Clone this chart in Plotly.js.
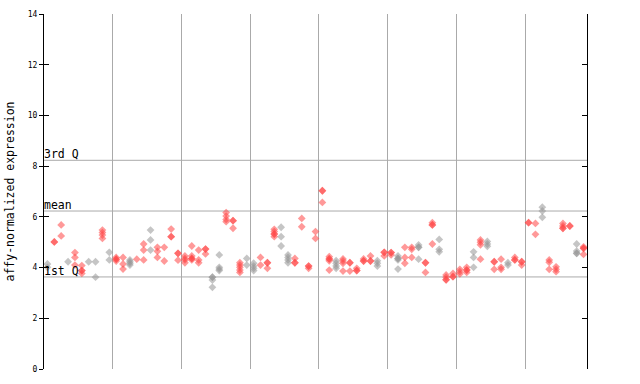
<!DOCTYPE html>
<html>
<head>
<meta charset="utf-8">
<script src="https://cdn.plot.ly/plotly-3.0.1.min.js"></script>
<style>html,body{margin:0;padding:0;background:#fff;}#chart{width:640px;height:384px;}</style>
</head>
<body>
<div id="chart"></div>
<script>
// expression values per sample (replicates)
const group1 = [[4.14,4.01],[5.01,5.01],[5.68,5.25],[4.23],[4.59,4.40,4.10],[4.08,3.88,3.88,3.77],[4.23],[4.23,3.62],[5.48,5.38,5.28,5.15],[4.60,4.30]];
const group2 = [[4.40,4.33,4.33,4.26],[4.40,4.14,3.94],[4.30,4.23,4.17,4.10],[4.33],[4.93,4.69,4.30],[5.48,5.09,4.69],[4.80,4.64,4.40],[4.80,4.26],[5.52,5.22,5.22],[4.56,4.56,4.29]];
const group3 = [[4.46,4.36,4.30,4.19],[4.85,4.46,4.36,4.36,4.30],[4.69,4.30,4.19],[4.73,4.73,4.54],[3.62,3.62,3.51,3.22],[4.50,4.01,3.94,3.88],[6.17,6.03,5.90,5.81],[5.85,5.85,5.55],[4.19,4.10,4.01,3.90,3.81],[4.36,4.10]];
const group4 = [[4.17,4.06,3.97,3.88],[4.40,4.10],[4.19,4.19,3.97],[5.51,5.42,5.32,5.32,5.22],[5.59,5.22,4.85],[4.50,4.40,4.30,4.19],[4.36,4.19,4.19],[5.94,5.61],[4.06,4.06,3.97],[5.42,5.15]];
const group5 = [[7.03,7.03,6.57],[4.43,4.34,4.34,4.27,3.90],[4.27,4.17,4.06,3.97],[4.34,4.26,4.17,3.86],[4.19,4.19,3.86],[3.97,3.88,3.88],[4.34,4.26,4.26],[4.46,4.26,4.26],[4.27,4.17,4.06],[4.60,4.60,4.46]];
const group6 = [[4.59,4.59,4.50],[4.46,4.36,4.36,4.30,3.94],[4.80,4.40,4.17],[4.80,4.72,4.40],[4.89,4.80,4.80,4.33],[4.19,4.19,3.81],[5.77,5.68,5.68,4.93],[5.11,4.72,4.62],[3.71,3.62,3.52,3.52],[3.77,3.64,3.64]];
const group7 = [[3.93,3.84,3.75],[4.01,3.90,3.90,3.81],[4.62,4.40,4.01],[5.09,5.00,4.90,4.33],[5.03,4.93,4.84],[4.23,4.23,3.93],[4.33,4.01,3.93],[4.19,4.10],[4.40,4.30,4.30],[4.23,4.23,4.10]];
const group8 = [[5.77,5.77],[5.74,5.31],[6.38,6.23,5.98],[4.30,4.21,3.93],[4.03,3.93,3.84],[5.74,5.64,5.55,5.55],[5.64,5.64],[4.93,4.65,4.56,4.56],[4.82,4.76,4.76,4.52]];

// colour flag per sample: 'g' grey, 'r' red
const sampleColor = [
  'g','r','r','g','r','r','g','g','r','g',
  'r','r','g','r','r','g','r','r','r','r',
  'r','r','r','r','g','g','r','r','r','g',
  'g','r','r','r','g','g','r','r','r','r',
  'r','r','g','r','r','r','r','r','g','r',
  'r','g','r','r','g','r','r','g','r','r',
  'r','r','g','r','g','r','r','g','r','r',
  'r','r','g','r','r','r','r','g','r'
];

const quartile1 = 3.63;
const meanValue = 6.23;
const quartile3 = 8.23;
const yTicks = [0,2,4,6,8,10,12,14];

const samples = [].concat(group1, group2, group3, group4, group5, group6, group7, group8);

const gx = [], gy = [], rx = [], ry = [];
samples.forEach((vals, i) => {
  vals.forEach(v => {
    if (sampleColor[i] === 'g') { gx.push(i + 0.5); gy.push(v); }
    else { rx.push(i + 0.5); ry.push(v); }
  });
});

const mono = 'DejaVu Sans Mono, monospace';

const traces = [
  {x: [], y: [], type: 'scatter', mode: 'markers', yaxis: 'y2', hoverinfo: 'skip', showlegend: false},
  {x: gx, y: gy, type: 'scatter', mode: 'markers', hoverinfo: 'skip',
   marker: {symbol: 'diamond', size: 6, color: 'rgba(150,150,150,0.55)', line: {width: 0}}},
  {x: rx, y: ry, type: 'scatter', mode: 'markers', hoverinfo: 'skip',
   marker: {symbol: 'diamond', size: 6, color: 'rgba(255,70,70,0.55)', line: {width: 0}}}
];

const layout = {
  width: 640, height: 384,
  margin: {l: 44, r: 53, t: 14, b: 15},
  paper_bgcolor: '#ffffff', plot_bgcolor: '#ffffff',
  showlegend: false,
  font: {family: mono, size: 10, color: '#000'},
  xaxis: {range: [0, 79], dtick: 10, tick0: 0, showgrid: true, gridcolor: '#aaaaaa', gridwidth: 1,
          showticklabels: false, ticks: '', zeroline: false, showline: false, fixedrange: true},
  yaxis: {range: [0, 14], tickvals: yTicks, ticktext: yTicks.map(String), ticks: 'outside', ticklen: 4,
          tickcolor: '#000', showline: true, linecolor: '#000', linewidth: 1, showgrid: false, zeroline: false,
          tickfont: {family: mono, size: 8, color: '#000'},
          title: {text: 'affy-normalized expression', font: {family: mono, size: 11.5, color: '#000'}, standoff: 10}},
  yaxis2: {range: [0, 14], tickvals: yTicks, overlaying: 'y', side: 'left', anchor: 'x', ticks: 'inside', ticklen: 5,
           tickcolor: '#000', showticklabels: false, showgrid: false, zeroline: false,
           showline: true, linecolor: '#000', mirror: 'ticks'},
  shapes: [quartile3, meanValue, quartile1].map(v => ({
    type: 'line', xref: 'paper', x0: 0, x1: 1, yref: 'y', y0: v, y1: v,
    line: {color: '#aaaaaa', width: 1}, layer: 'below'
  })),
  annotations: [['3rd Q', quartile3], ['mean', meanValue], ['1st Q', quartile1]].map(([t, v]) => ({
    text: t, xref: 'paper', x: 0, xanchor: 'left', yref: 'y', y: v, yanchor: 'bottom',
    showarrow: false, font: {family: mono, size: 11.5, color: '#000'}, xshift: -2, yshift: -3
  }))
};

Plotly.newPlot('chart', traces, layout, {staticPlot: true, displayModeBar: false});
</script>
</body>
</html>
